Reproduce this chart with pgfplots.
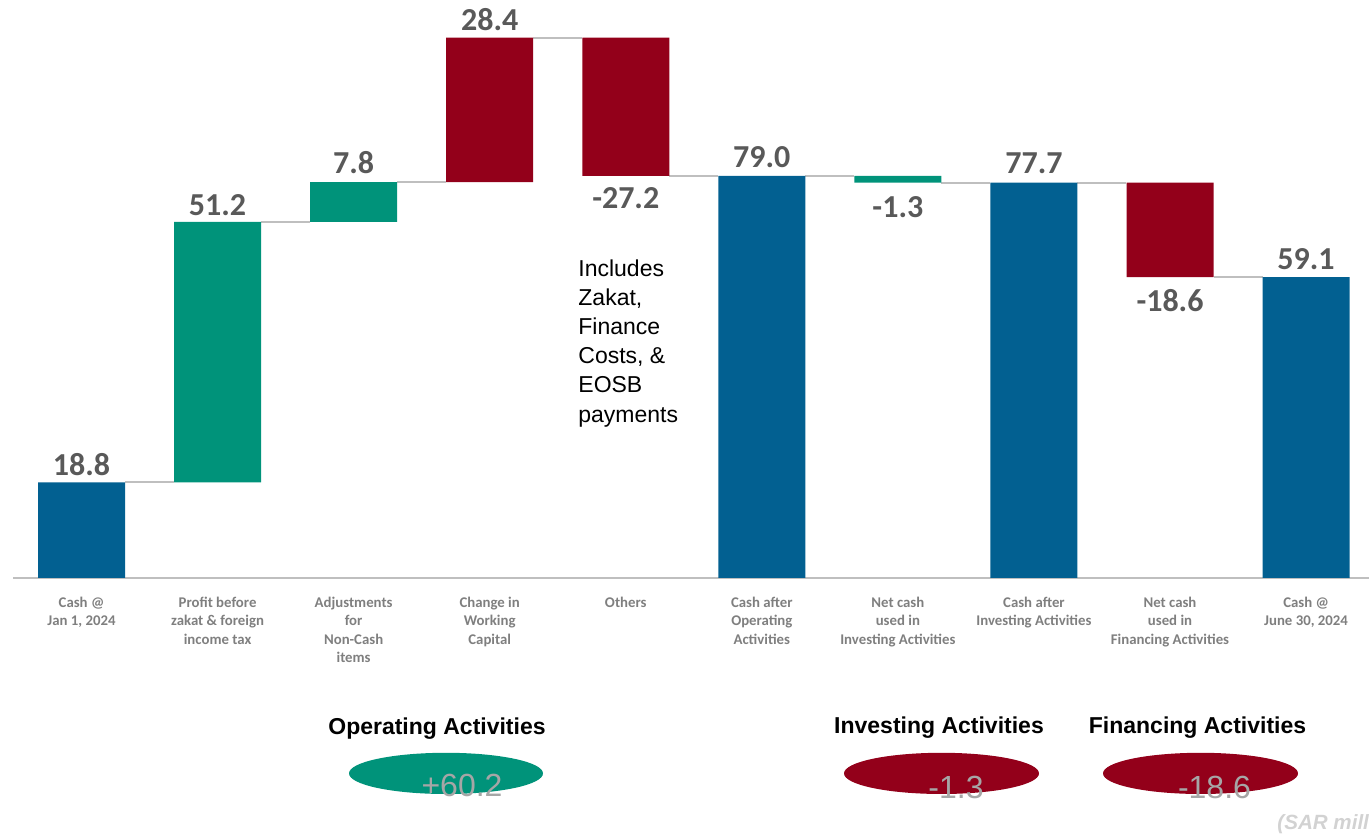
\documentclass[border=0pt]{standalone}
\usepackage{pgfplots}
\usepackage{pgfplotstable}
\pgfplotsset{compat=1.18}
\usepackage{fontspec}
\setmainfont{Carlito}
\newfontfamily\arial{Liberation Sans}
\definecolor{cfblue}{RGB}{2,96,145}
\definecolor{cfgreen}{RGB}{0,147,122}
\definecolor{cfred}{RGB}{147,0,26}
\definecolor{lblgray}{RGB}{89,89,89}
\definecolor{tickgray}{RGB}{127,127,127}
\definecolor{linegray}{RGB}{191,191,191}
\definecolor{numgray}{RGB}{166,166,166}
\definecolor{unitgray}{RGB}{210,210,210}

\pgfplotstableread{
x base blue green red
0 0    18.8 0    0
1 18.8 0    51.2 0
2 70.0 0    7.8  0
3 77.8 0    0    28.4
4 79.0 0    0    27.2
5 0    79.0 0    0
6 77.7 0    1.3  0
7 0    77.7 0    0
8 59.1 0    0    18.6
9 0    59.1 0    0
}\wftable

\pgfplotstableread{
x y
0.32 18.8
0.68 18.8
0.5 nan
1.32 70.0
1.68 70.0
1.5 nan
2.32 77.8
2.68 77.8
2.5 nan
3.32 106.2
3.68 106.2
3.5 nan
4.32 79.0
4.68 79.0
4.5 nan
5.32 79.0
5.68 79.0
5.5 nan
6.32 77.7
6.68 77.7
6.5 nan
7.32 77.7
7.68 77.7
7.5 nan
8.32 59.1
8.68 59.1
}\conntable

\pgfplotsset{wfgeom/.style={
  at={(6.5pt,130pt)}, anchor=south west,
  scale only axis, width=678pt, height=289pt,
  xmin=-0.5035, xmax=9.4627, ymin=0, ymax=113.58, clip=false}}
\tikzset{vl/.style={font=\fontsize{16}{16}\selectfont\bfseries, text=lblgray, anchor=center, inner sep=1pt}}

\begin{document}
\begin{tikzpicture}
\useasboundingbox (0,0) rectangle (684.5pt,419pt);
\begin{axis}[wfgeom, hide axis]
\addplot[sharp plot, no markers, draw=linegray, line width=1pt, unbounded coords=jump] table[x=x, y=y] {\conntable};
\end{axis}
\begin{axis}[
  wfgeom,
  axis x line=bottom, axis y line=none,
  x axis line style={-, draw=linegray, line width=1pt},
  ybar stacked, bar width=43.5pt,
  xtick={0,1,2,3,4,5,6,7,8,9}, major tick length=0pt,
  xticklabels={{Cash @\\Jan 1, 2024},{Profit before\\zakat \& foreign\\income tax},{Adjustments\\for\\Non-Cash\\items},{Change in\\Working\\Capital},{Others},{Cash after\\Operating\\Activities},{Net cash\\used in\\Investing Activities},{Cash after\\Investing Activities},{Net cash\\used in\\Financing Activities},{Cash @\\June 30, 2024}},
  xticklabel style={font=\fontsize{7.4}{9.2}\selectfont\bfseries, text=tickgray, align=center, anchor=north, inner sep=0pt, yshift=-9.3pt},
  ytick=\empty,
]
\addplot[draw=none, fill=white, fill opacity=0] table[x=x, y=base] {\wftable};
\addplot[draw=none, fill=cfblue] table[x=x, y=blue] {\wftable};
\addplot[draw=none, fill=cfgreen] table[x=x, y=green] {\wftable};
\addplot[draw=none, fill=cfred] table[x=x, y=red] {\wftable};
\end{axis}
\begin{axis}[wfgeom, hide axis]
\node[vl, yshift=9pt] at (axis cs:0,18.8) {18.8};
\node[vl, yshift=8.5pt] at (axis cs:1,70.0) {51.2};
\node[vl, yshift=9.5pt] at (axis cs:2,77.8) {7.8};
\node[vl, yshift=9pt] at (axis cs:3,106.2) {28.4};
\node[vl, yshift=-11pt] at (axis cs:4,79.0) {-27.2};
\node[vl, yshift=9.5pt] at (axis cs:5,79.0) {79.0};
\node[vl, yshift=-12.5pt] at (axis cs:6,77.7) {-1.3};
\node[vl, yshift=9.5pt] at (axis cs:7,77.7) {77.7};
\node[vl, yshift=-11.5pt] at (axis cs:8,59.1) {-18.6};
\node[vl, yshift=9pt] at (axis cs:9,59.1) {59.1};
\end{axis}

\node[anchor=north west, inner sep=0pt, align=left, font=\arial\fontsize{11.5}{14.6}\selectfont] at (289pt,289.5pt) {Includes\\Zakat,\\Finance\\Costs, \&\\EOSB\\payments};

\node[anchor=base, inner sep=0pt, font=\arial\bfseries\fontsize{11.5}{13}\selectfont] at (218.5pt,51.7pt) {Operating Activities};
\node[anchor=base, inner sep=0pt, font=\arial\bfseries\fontsize{11.5}{13}\selectfont] at (469.5pt,52.2pt) {Investing Activities};
\node[anchor=base, inner sep=0pt, font=\arial\bfseries\fontsize{11.5}{13}\selectfont] at (598.75pt,52.2pt) {Financing Activities};

\fill[cfgreen] (223pt,32.3pt) ellipse [x radius=48.5pt, y radius=10.3pt];
\fill[cfred] (470.75pt,32.3pt) ellipse [x radius=48.75pt, y radius=10.3pt];
\fill[cfred] (600.25pt,32.3pt) ellipse [x radius=48.75pt, y radius=10.3pt];

\node[anchor=base, inner sep=0pt, text=numgray, font=\arial\fontsize{16}{16}\selectfont] at (231pt,20.5pt) {+60.2};
\node[anchor=base, inner sep=0pt, text=numgray, font=\arial\fontsize{16}{16}\selectfont] at (478pt,19.5pt) {-1.3};
\node[anchor=base, inner sep=0pt, text=numgray, font=\arial\fontsize{16}{16}\selectfont] at (607.25pt,19.5pt) {-18.6};

\node[anchor=base west, inner sep=0pt, text=unitgray, font=\arial\bfseries\itshape\fontsize{10.3}{12}\selectfont] at (638.5pt,4pt) {(SAR mill};
\end{tikzpicture}
\end{document}
